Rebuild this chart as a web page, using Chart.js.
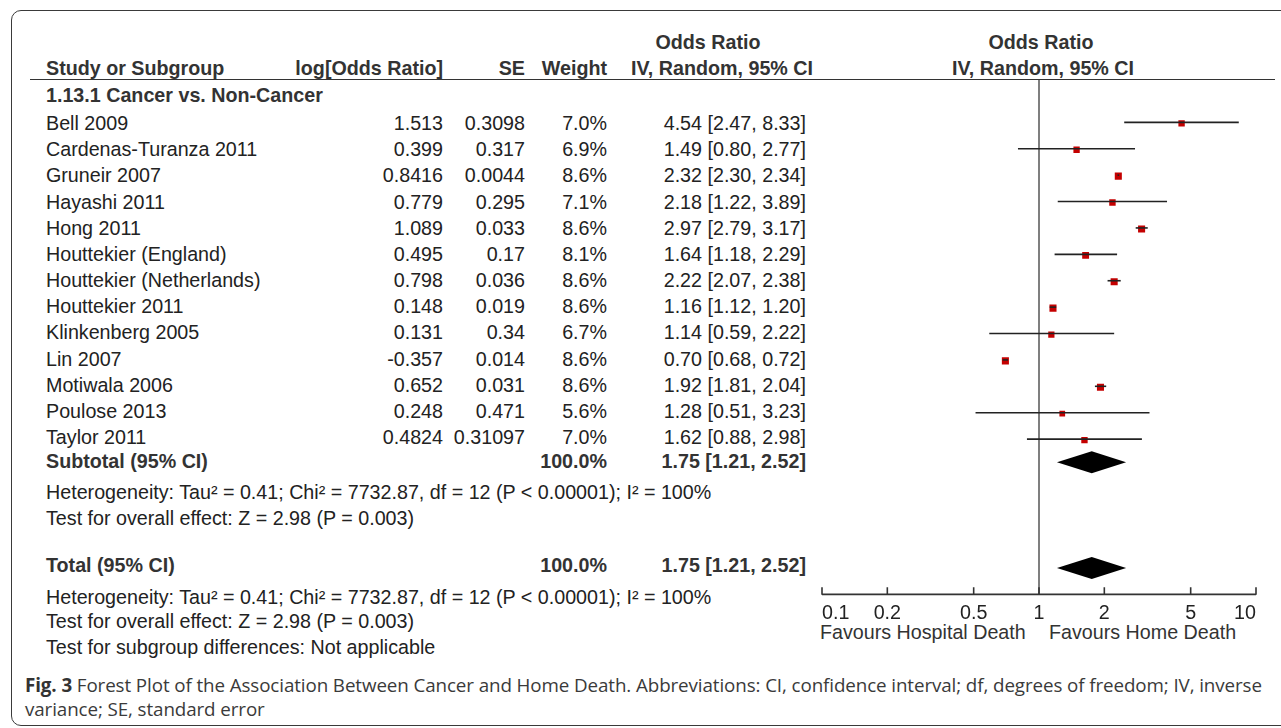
<!DOCTYPE html>
<html>
<head>
<meta charset="utf-8">
<script src="https://cdn.jsdelivr.net/npm/chart.js@4.4.1/dist/chart.umd.min.js"></script>
<style>
  body { margin: 0; background: #fff; width: 1281px; height: 728px; overflow: hidden; position: relative;
         font-family: "Liberation Sans", Arial, sans-serif; color: #222; }
  #frame { position: absolute; left: 11px; top: 10px; width: 1320px; height: 714px;
           border: 1.5px solid #3a3a3a; border-radius: 10px; }
  .t { position: absolute; font-size: 19.7px; line-height: 22px; white-space: nowrap; }
  .r { text-align: right; }
  .b { font-weight: bold; color: #333; }
  #hline { position: absolute; left: 30px; top: 79px; width: 1245px; height: 0; border-top: 1.6px solid #333; }
  #caption { position: absolute; left: 25px; top: 673px; font-family: "Open Sans", sans-serif; font-size: 18.8px;
             line-height: 24px; color: #3a3a3a; white-space: nowrap; letter-spacing: -0.1px; }
  #caption b { font-weight: bold; color: #333; }
  canvas { position: absolute; left: 0; top: 0; }
</style>
</head>
<body>
<div id="frame"></div>
<div id="hline"></div>
<div id="table"></div>
<div id="caption"><b>Fig. 3</b> Forest Plot of the Association Between Cancer and Home Death. Abbreviations: CI, confidence interval; df, degrees of freedom; IV, inverse<br>variance; SE, standard error</div>
<canvas id="forest" width="1281" height="728"></canvas>
<script>
// 数据
const studies = ['Bell 2009', 'Cardenas-Turanza 2011', 'Gruneir 2007', 'Hayashi 2011', 'Hong 2011',
  'Houttekier (England)', 'Houttekier (Netherlands)', 'Houttekier 2011', 'Klinkenberg 2005', 'Lin 2007',
  'Motiwala 2006', 'Poulose 2013', 'Taylor 2011'];
const logOR = ['1.513', '0.399', '0.8416', '0.779', '1.089', '0.495', '0.798', '0.148', '0.131', '-0.357',
  '0.652', '0.248', '0.4824'];
const stdErr = ['0.3098', '0.317', '0.0044', '0.295', '0.033', '0.17', '0.036', '0.019', '0.34', '0.014',
  '0.031', '0.471', '0.31097'];
const weights = [7.0, 6.9, 8.6, 7.1, 8.6, 8.1, 8.6, 8.6, 6.7, 8.6, 8.6, 5.6, 7.0];
const oddsRatio = [4.54, 1.49, 2.32, 2.18, 2.97, 1.64, 2.22, 1.16, 1.14, 0.70, 1.92, 1.28, 1.62];
const ciLow = [2.47, 0.80, 2.30, 1.22, 2.79, 1.18, 2.07, 1.12, 0.59, 0.68, 1.81, 0.51, 0.88];
const ciHigh = [8.33, 2.77, 2.34, 3.89, 3.17, 2.29, 2.38, 1.20, 2.22, 0.72, 2.04, 3.23, 2.98];
const summaryLabels = ['Subtotal (95% CI)', 'Total (95% CI)'];
const summaryOR = [1.75, 1.75];
const summaryLow = [1.21, 1.21];
const summaryHigh = [2.52, 2.52];
const xTicks = [0.1, 0.2, 0.5, 1, 2, 5, 10];

const fmt2 = v => v.toFixed(2);
const ciText = (o, l, h) => `${fmt2(o)} [${fmt2(l)}, ${fmt2(h)}]`;

// 表格文字
const table = document.getElementById('table');
const addText = (txt, x, y, opts = {}) => {
  const d = document.createElement('div');
  d.className = 't' + (opts.right ? ' r' : '') + (opts.bold ? ' b' : '');
  d.textContent = txt;
  d.style.top = (y - 11) + 'px';
  if (opts.right) { d.style.right = (1281 - x) + 'px'; } else { d.style.left = x + 'px'; }
  if (opts.center) { d.style.left = x + 'px'; d.style.transform = 'translateX(-50%)'; }
  if (opts.color) d.style.color = opts.color;
  table.appendChild(d);
};

const rowY = i => 123 + i * 26.17;

addText('Odds Ratio', 708, 42, {bold: true, center: true});
addText('Odds Ratio', 1041, 42, {bold: true, center: true});
addText('Study or Subgroup', 46, 68, {bold: true});
addText('log[Odds Ratio]', 443, 68, {bold: true, right: true});
addText('SE', 525, 68, {bold: true, right: true});
addText('Weight', 607, 68, {bold: true, right: true});
addText('IV, Random, 95% CI', 722, 68, {bold: true, center: true});
addText('IV, Random, 95% CI', 1043, 68, {bold: true, center: true});
addText('1.13.1 Cancer vs. Non-Cancer', 46, 95, {bold: true});

studies.forEach((s, i) => {
  const y = rowY(i);
  addText(s, 46, y);
  addText(logOR[i], 443, y, {right: true});
  addText(stdErr[i], 525, y, {right: true});
  addText(weights[i].toFixed(1) + '%', 607, y, {right: true});
  addText(ciText(oddsRatio[i], ciLow[i], ciHigh[i]), 806, y, {right: true});
});

const summaryTextY = [461, 565];
summaryLabels.forEach((s, k) => {
  const y = summaryTextY[k];
  addText(s, 46, y, {bold: true});
  addText('100.0%', 607, y, {bold: true, right: true});
  addText(ciText(summaryOR[k], summaryLow[k], summaryHigh[k]), 806, y, {bold: true, right: true});
});
const het = 'Heterogeneity: Tau\u00b2 = 0.41; Chi\u00b2 = 7732.87, df = 12 (P < 0.00001); I\u00b2 = 100%';
const eff = 'Test for overall effect: Z = 2.98 (P = 0.003)';
addText(het, 46, 492);
addText(eff, 46, 518);
addText(het, 46, 597);
addText(eff, 46, 621);
addText('Test for subgroup differences: Not applicable', 46, 647);
addText('Favours Hospital Death', 820, 632, {color: '#333'});
addText('Favours Home Death', 1049, 632, {color: '#333'});

// 森林图
const rowOfSummary = [studies.length - 0.16, studies.length + 3.85];

const forestPlugin = {
  id: 'forest',
  afterDatasetsDraw(chart) {
    const {ctx, chartArea, scales: {x, y}} = chart;
    ctx.save();
    // 无效线
    ctx.strokeStyle = '#555';
    ctx.lineWidth = 1.5;
    ctx.beginPath();
    ctx.moveTo(x.getPixelForValue(1), chartArea.top);
    ctx.lineTo(x.getPixelForValue(1), chartArea.bottom);
    ctx.stroke();
    // 置信区间
    ctx.strokeStyle = '#222';
    ctx.lineWidth = 1.6;
    studies.forEach((s, i) => {
      const py = y.getPixelForValue(i) - 1;
      ctx.beginPath();
      ctx.moveTo(x.getPixelForValue(ciLow[i]), py);
      ctx.lineTo(x.getPixelForValue(ciHigh[i]), py);
      ctx.stroke();
    });
    // 菱形
    ctx.fillStyle = '#000';
    summaryOR.forEach((o, k) => {
      const py = y.getPixelForValue(rowOfSummary[k]);
      ctx.beginPath();
      ctx.moveTo(x.getPixelForValue(summaryLow[k]), py);
      ctx.lineTo(x.getPixelForValue(o), py - 11);
      ctx.lineTo(x.getPixelForValue(summaryHigh[k]), py);
      ctx.lineTo(x.getPixelForValue(o), py + 11);
      ctx.closePath();
      ctx.fill();
    });
    // 坐标轴
    ctx.strokeStyle = '#333';
    ctx.lineWidth = 1.6;
    ctx.beginPath();
    ctx.moveTo(x.getPixelForValue(xTicks[0]), chartArea.bottom);
    ctx.lineTo(x.getPixelForValue(xTicks[xTicks.length - 1]), chartArea.bottom);
    xTicks.forEach(t => {
      const px = x.getPixelForValue(t);
      ctx.moveTo(px, chartArea.bottom - 7);
      ctx.lineTo(px, chartArea.bottom + 0.5);
    });
    ctx.stroke();
    ctx.restore();
  }
};

new Chart(document.getElementById('forest').getContext('2d'), {
  type: 'scatter',
  data: {
    datasets: [{
      data: studies.map((s, i) => ({x: oddsRatio[i], y: i})),
      pointStyle: 'rect',
      pointRadius: weights.map(w => 5 * Math.sqrt(w / 8.6)),
      backgroundColor: '#c40000',
      borderWidth: 0
    }]
  },
  options: {
    responsive: false,
    animation: false,
    events: [],
    layout: {padding: {left: 822, right: 25, top: 80, bottom: 96}},
    plugins: {legend: {display: false}, tooltip: {enabled: false}},
    scales: {
      x: {
        type: 'logarithmic',
        min: 0.1,
        max: 10,
        afterBuildTicks: axis => { axis.ticks = xTicks.map(v => ({value: v})); },
        grid: {display: false, drawTicks: false},
        border: {display: false},
        ticks: {
          autoSkip: false,
          maxRotation: 0,
          align: 'inner',
          padding: 7,
          color: '#222',
          font: {family: '"Liberation Sans", Arial, sans-serif', size: 19.7},
          callback: v => String(v)
        }
      },
      y: {
        type: 'linear',
        reverse: true,
        min: -1.643,
        max: 17.845,
        display: false
      }
    }
  },
  plugins: [forestPlugin]
});
</script>
</body>
</html>
